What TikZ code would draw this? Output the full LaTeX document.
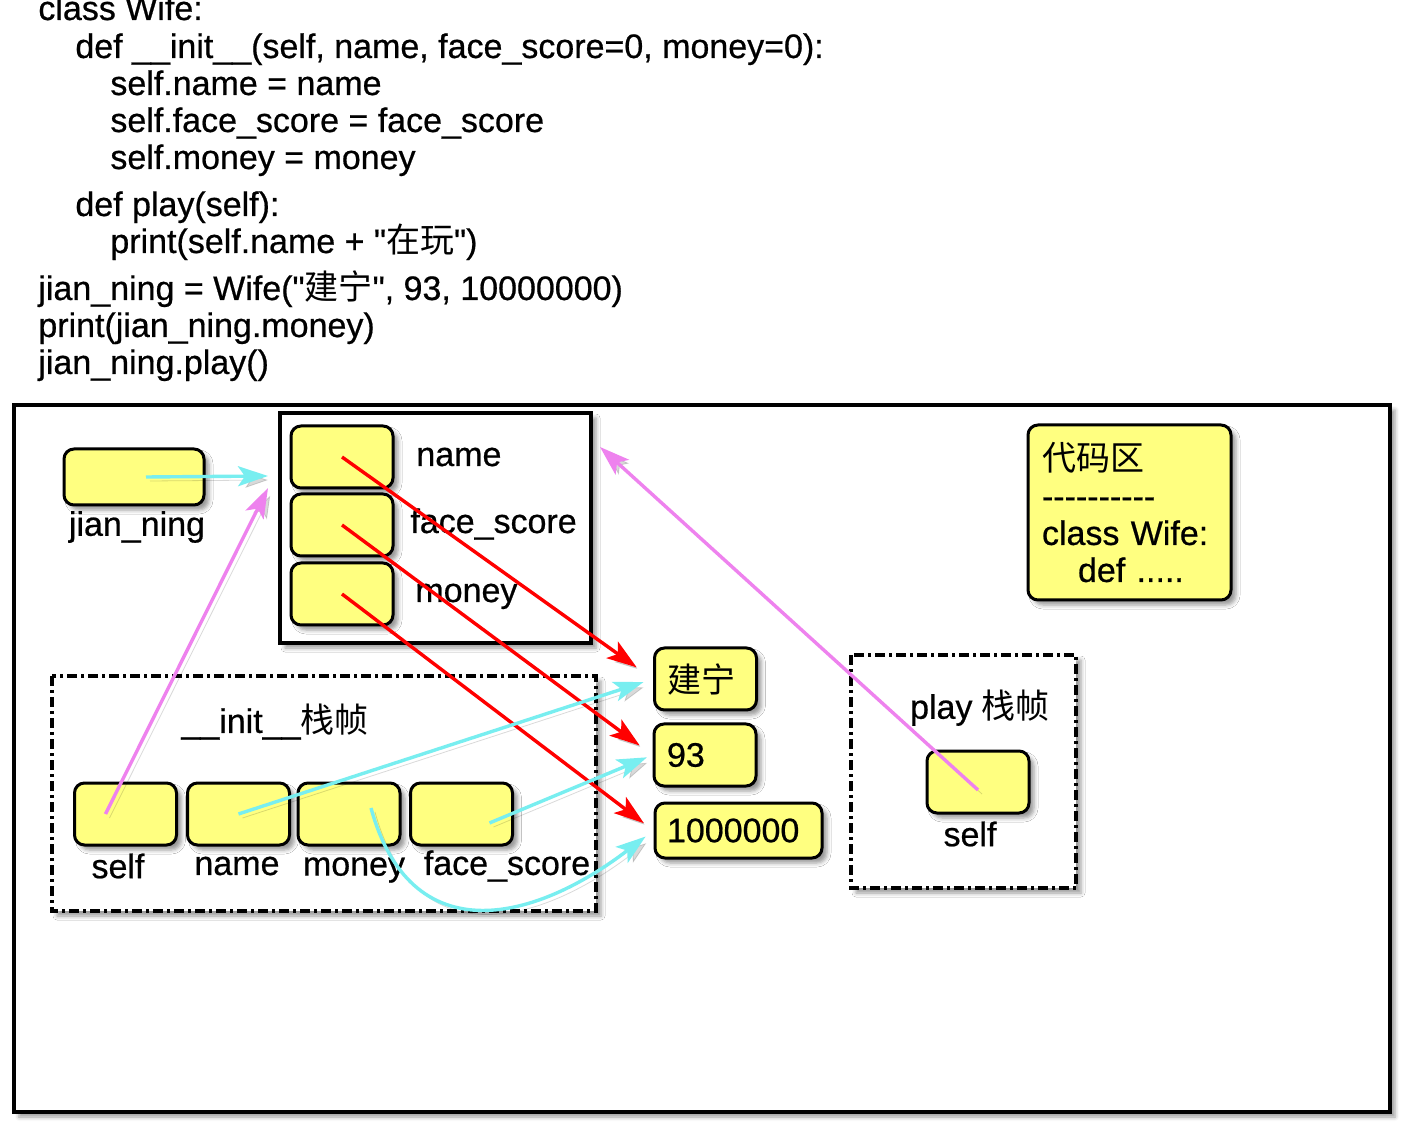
\documentclass[tikz,border=0pt]{standalone}
\usepackage{fontspec}
\setmainfont{Liberation Sans}[Ligatures=TeXOff, FakeBold=0.6]
\newfontfamily\cjk{Noto Sans CJK SC}
\usetikzlibrary{arrows.meta,shadows.blur}
\definecolor{boxyellow}{RGB}{255,255,128}
\definecolor{refcyan}{RGB}{120,238,240}
\definecolor{refviolet}{RGB}{238,130,238}
\tikzset{
	softshadow/.style={blur shadow={shadow xshift=2.5pt, shadow yshift=-2.5pt, shadow blur radius=2pt, shadow opacity=40}},
	codeline/.style={anchor=west, inner sep=0pt, text height=12.5pt, text depth=3.5pt},
	cell/.style={draw=black, line width=1.5pt, fill=boxyellow, rounded corners=5pt, minimum width=51pt, minimum height=31pt, inner sep=0pt, softshadow},
	valbox/.style={cell, align=left, inner xsep=6pt},
	heapframe/.style={draw=black, line width=2pt, fill=white, softshadow},
	stackframe/.style={heapframe, dash pattern=on 5pt off 2pt on 1.5pt off 2pt},
	ptr/.style={line width=1.7pt, -{Stealth[length=15pt,width=10pt,inset=3.5pt]},
		preaction={draw=black, opacity=.15, transform canvas={xshift=2pt, yshift=-2pt}}},
}
\begin{document}
\begin{tikzpicture}[x=.5pt, y=-.5pt, font=\fontsize{17pt}{18.5pt}\selectfont]
	\useasboundingbox (0,0) rectangle (1414,1138);
	% code
	\node[codeline] (c1)  at (38,11)   {class Wife:};
	\node[codeline] (c2)  at (75,49)   {def \_\_init\_\_(self, name, face\_score=0, money=0):};
	\node[codeline] (c3)  at (110,86)  {self.name = name};
	\node[codeline] (c4)  at (110,123) {self.face\_score = face\_score};
	\node[codeline] (c5)  at (110,160) {self.money = money};
	\node[codeline] (c6)  at (75,207)  {def play(self):};
	\node[codeline] (c7)  at (110,244) {print(self.name + "{\cjk 在玩}")};
	\node[codeline] (c8)  at (38,291)  {jian\_ning = Wife("{\cjk 建宁}", 93, 10000000)};
	\node[codeline] (c9)  at (38,328)  {print(jian\_ning.money)};
	\node[codeline] (c10) at (38,365)  {jian\_ning.play()};
	% frames
	\draw[heapframe]  (14,405)  rectangle (1390,1112);
	\draw[heapframe]  (280,413) rectangle (591,643);
	\draw[stackframe] (52,676)  rectangle (596,911);
	\draw[stackframe] (851,655) rectangle (1076,888);
	% jian_ning
	\node[cell, minimum width=70pt, minimum height=28pt] (jn) at (134,477) {};
	\node (jnname) at (137,527) {jian\_ning};
	% object
	\node[cell] (o1) at (342,457) {};
	\node[cell] (o2) at (342,525) {};
	\node[cell] (o3) at (342,594) {};
	\node[codeline] (o1name) at (416,457) {name};
	\node[codeline] (o2name) at (410,524) {face\_score};
	\node[codeline] (o3name) at (415,593) {money};
	% values
	\node[valbox, text width=38.5pt] (v1) at (705.5,679) {{\cjk 建宁}};
	\node[valbox, text width=38pt] (v2) at (705,755) {93};
	\node[valbox, text width=71.5pt, minimum height=27.5pt] (v3) at (738.5,830.5) {1000000};
	% __init__
	\node (initname) at (275,722) {\_\_init\_\_{\cjk 栈帧}};
	\node[cell] (i1) at (125.5,814) {};
	\node[cell] (i2) at (238.5,814) {};
	\node[cell] (i3) at (349,814)   {};
	\node[cell] (i4) at (461.5,814) {};
	\node (i1name) at (118,866) {self};
	\node (i2name) at (237,866) {name};
	\node (i3name) at (354,870) {money};
	\node (i4name) at (507,866) {face\_score};
	% play
	\node (playname) at (980,708) {play {\cjk 栈帧}};
	\node[cell] (p1) at (978,782) {};
	\node (p1name) at (970,834) {self};
	% code area
	\node[cell, align=left, minimum width=101.5pt, minimum height=87.5pt, text width=87.5pt, inner xsep=7pt] (code) at (1129.5,512.5)
		{{\cjk 代码区}\\----------\\class Wife:\\\hspace*{18pt}def .....};
	% pointers
	\coordinate (jnend)   at (268,476);
	\coordinate (selfend) at (268,488);
	\coordinate (playend) at (600,447);
	\draw[ptr, refcyan]   ([xshift=6pt]jn.center) -- (jnend);
	\draw[ptr, refviolet] ([xshift=-10pt]i1.center) -- (selfend);
	\draw[ptr, refviolet] ([yshift=-4pt]p1.center) -- (playend);
	\draw[ptr, red, shorten >=10pt] (o1.center) -- (v1.west);
	\draw[ptr, red, shorten >=8pt]  (o2.center) -- (v2.west);
	\draw[ptr, red, shorten >=6pt]  (o3.center) -- (v3.west);
	\draw[ptr, refcyan, shorten >=5pt] (i2.center) -- (v1.west);
	\draw[ptr, refcyan, shorten >=3pt] ([xshift=14pt,yshift=-4.5pt]i4.center) -- (v2.west);
	\draw[ptr, refcyan, shorten >=5pt] ([xshift=11pt,yshift=3pt]i3.center) .. controls (410,950) and (530,925) .. (v3.west);
\end{tikzpicture}
\end{document}
